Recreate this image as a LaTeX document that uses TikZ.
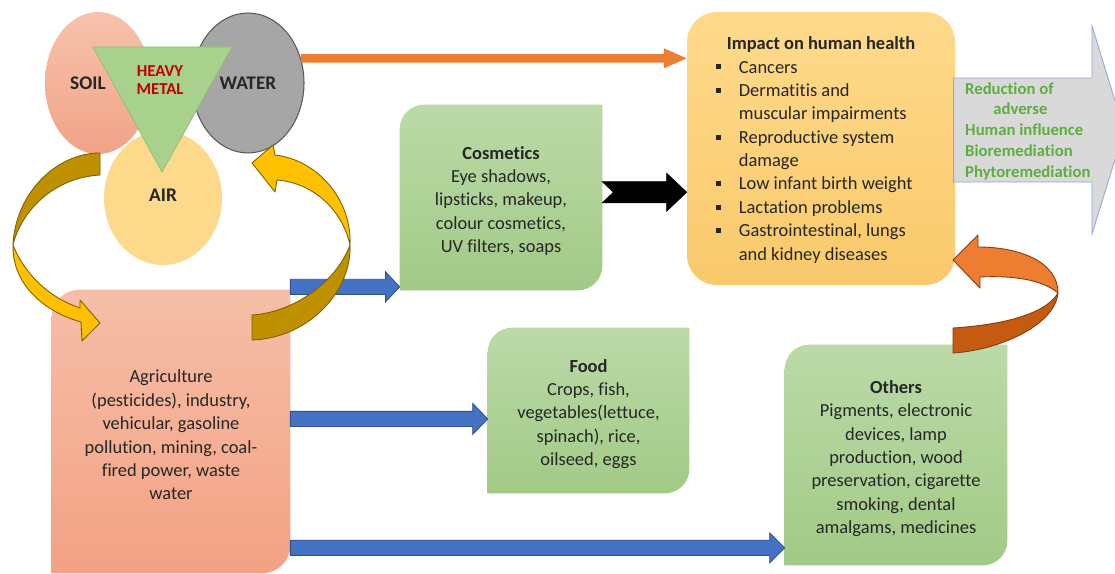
\documentclass[tikz,border=0pt]{standalone}
\usepackage{fontspec}
\setmainfont{Carlito}[Ligatures=NoCommon]
\usetikzlibrary{fit,shapes.geometric,backgrounds}

\definecolor{soilt}{HTML}{F7C2AC}
\definecolor{soilb}{HTML}{F0A387}
\definecolor{airc}{HTML}{FDD98C}
\definecolor{waterc}{HTML}{A6A6A6}
\definecolor{wateredge}{HTML}{595959}
\definecolor{metalc}{HTML}{A9D18E}
\definecolor{metaledge}{HTML}{8CBF6E}
\definecolor{metaltext}{HTML}{C00000}
\definecolor{greent}{HTML}{BBDAA8}
\definecolor{greenb}{HTML}{A2CA86}
\definecolor{agrit}{HTML}{F6BEA8}
\definecolor{agrib}{HTML}{F3A283}
\definecolor{impt}{HTML}{FFDA8C}
\definecolor{impb}{HTML}{F9C96B}
\definecolor{yell}{HTML}{FFC000}
\definecolor{yelldark}{HTML}{BF9000}
\definecolor{yelledge}{HTML}{7F6000}
\definecolor{oran}{HTML}{ED7D31}
\definecolor{orandark}{HTML}{C55A11}
\definecolor{oranedge}{HTML}{843C0C}
\definecolor{bluec}{HTML}{4472C4}
\definecolor{blueedge}{HTML}{2F528F}
\definecolor{greyarr}{HTML}{D9D9D9}
\definecolor{greyedge}{HTML}{8FAADC}
\definecolor{remedy}{HTML}{5DAD3F}
\definecolor{ink}{HTML}{262626}

% block arrow: [notch]{style}{from}{to}{half shaft}{half head}{head length}
\newcommand{\blockarrow}[7][0pt]{%
  \path (#3) coordinate (ba-s) (#4) coordinate (ba-e);
  \filldraw[#2] ([yshift=#5]ba-s) -- ([xshift=-#7,yshift=#5]ba-e)
    -- ([xshift=-#7,yshift=#6]ba-e) -- (ba-e)
    -- ([xshift=-#7,yshift=-#6]ba-e) -- ([xshift=-#7,yshift=-#5]ba-e)
    -- ([yshift=-#5]ba-s) -- ([xshift=#1]ba-s) -- cycle;}
% box with two round corners: {node}{radius}{top}{bottom}
\newcommand{\diagfill}[4]{%
  \shade[top color=#3, bottom color=#4] (#1.south west)
    -- ([yshift=-#2]#1.north west) arc[start angle=180, end angle=90, radius=#2]
    -- (#1.north east)
    -- ([yshift=#2]#1.south east) arc[start angle=0, end angle=-90, radius=#2]
    -- cycle;}
\newcommand{\sqbul}{\rule[0.2em]{0.27em}{0.27em}}

\begin{document}
\begin{tikzpicture}[x=0.02cm, y=-0.02cm,
	panel/.style={inner sep=0pt},
	box/.style={inner sep=0pt, align=center, text=ink, font=\fontsize{10.5}{13.3}\selectfont},
	blob/.style={ellipse, inner sep=0pt},
	lbl/.style={text=ink, font=\fontsize{11}{13}\selectfont\bfseries},
	bluearr/.style={fill=bluec, draw=blueedge, line width=0.5pt},
	yellarr/.style={fill=yell, draw=yelledge, line width=0.5pt, line join=round},
	yelldarkarr/.style={fill=yelldark, draw=yelledge, line width=0.5pt, line join=round},
	oranarr/.style={fill=oran, draw=oranedge, line width=0.5pt, line join=round},
	orandarkarr/.style={fill=orandark, draw=oranedge, line width=0.5pt, line join=round}
	]
	\useasboundingbox (0,0) rectangle (1115,574);

	% soil, water, air and the metal
	\node[blob, top color=soilt, bottom color=soilb, minimum width=2.12cm, minimum height=2.84cm] (soil) at (98,83) {};
	\node[blob, fill=waterc, draw=wateredge, line width=0.6pt, minimum width=2.24cm, minimum height=2.8cm] (water) at (248,83) {};
	\node[blob, fill=airc, minimum width=2.36cm, minimum height=2.68cm] (air) at (163,198) {};
	\filldraw[fill=metalc, draw=metaledge, line width=0.4pt] (93,47) -- (232,47) -- (162,172) -- cycle;
	\node[lbl] (soiltxt) at ([xshift=-5.7pt]soil.center) {SOIL};
	\node[lbl] (watertxt) at (water.center) {WATER};
	\node[lbl] (airtxt) at ([yshift=1.5pt]air.center) {AIR};
	\node[align=center, text=metaltext, font=\fontsize{9.5}{10.3}\selectfont\bfseries] (metal) at (160,80) {HEAVY\\METAL};

	% boxes
	\node[panel, fit={(52,290) (290,573)}] (agri) {};
	\node[panel, fit={(400,105) (602,290)}] (cosm) {};
	\node[panel, fit={(488,328) (689,493)}] (food) {};
	\node[panel, fit={(785,345) (1007,565)}] (others) {};
	\node[panel, fit={(687,12) (955,285)}, rounded corners=17pt, top color=impt, bottom color=impb] (imp) {};
	\begin{scope}[on background layer]
		\fill[white] (0,0) rectangle (1115,574);
		\diagfill{agri}{16pt}{agrit}{agrib}
		\diagfill{cosm}{14pt}{greent}{greenb}
		\diagfill{food}{14pt}{greent}{greenb}
		\diagfill{others}{14pt}{greent}{greenb}
	\end{scope}
	\node[box] (agritxt) at ([yshift=-2pt]agri.center) {Agriculture\\(pesticides), industry,\\vehicular, gasoline\\pollution, mining, coal-\\fired power, waste\\water};
	\node[box] (cosmtxt) at ([yshift=-2pt]cosm.center) {\textbf{Cosmetics}\\Eye shadows,\\lipsticks, makeup,\\colour cosmetics,\\UV filters, soaps};
	\node[box] (foodtxt) at ([yshift=-2pt]food.center) {\textbf{Food}\\Crops, fish,\\vegetables(lettuce,\\spinach), rice,\\oilseed, eggs};
	\node[box] (otherstxt) at ([yshift=-2pt]others.center) {\textbf{Others}\\Pigments, electronic\\devices, lamp\\production, wood\\preservation, cigarette\\smoking, dental\\amalgams, medicines};
	\node[inner sep=0pt, text=ink, font=\fontsize{10.5}{13.3}\selectfont] (imptxt) at ([yshift=-1pt]imp.center) {%
		\begin{tabular}{@{}l@{\hspace{10pt}}l@{}}
		\multicolumn{2}{c}{\textbf{Impact on human health}}\\
		\sqbul & Cancers\\
		\sqbul & Dermatitis and\\
		& muscular impairments\\
		\sqbul & Reproductive system\\
		& damage\\
		\sqbul & Low infant birth weight\\
		\sqbul & Lactation problems\\
		\sqbul & Gastrointestinal, lungs\\
		& and kidney diseases
		\end{tabular}};

	% straight arrows
	\blockarrow{fill=oran, draw=none}{water.25}{imp.west |- water.25}{2.4pt}{5.7pt}{13pt}
	\blockarrow{bluearr}{[yshift=2pt]agri.east |- cosm.south}{[yshift=2pt]cosm.south west}{4.3pt}{8.5pt}{8pt}
	\blockarrow{bluearr}{[yshift=-4.8pt]agri.east |- food.west}{[yshift=-4.8pt]food.west}{4.3pt}{8.8pt}{8.5pt}
	\blockarrow{bluearr}{[yshift=10pt]agri.east |- others.south}{[yshift=10pt]others.south west}{4.3pt}{8.5pt}{8.5pt}
	\blockarrow[6.3pt]{fill=black, draw=black}{[yshift=3pt]cosm.east}{[yshift=3pt]imp.west |- cosm.east}{6pt}{10.8pt}{11.4pt}
	\blockarrow{fill=greyarr, draw=greyedge, line width=0.5pt}{[xshift=-1pt,yshift=10.5pt]imp.east}{[yshift=10.5pt]imp.east -| 1124,0}{29.6pt}{59.2pt}{18.2pt}
	\node[anchor=west, align=left, text=remedy, font=\fontsize{9.5}{11.8}\selectfont\bfseries] (remedy) at (959,131)
		{Reduction of\\\hspace*{16pt}adverse\\Human influence\\Bioremediation\\Phytoremediation};

	% curved arrows
	\filldraw[yelldarkarr] (100,153) .. controls (55,153) and (15,195) .. (13,245)
		.. controls (20,215) and (50,178) .. (100,175) -- cycle;
	\filldraw[yellarr] (13,245) .. controls (25,275) and (50,298) .. (80,308) -- (80,300) -- (100,323)
		-- (82,341) -- (81,322) .. controls (45,312) and (12,285) .. (13,245) -- cycle;
	\filldraw[yellarr] (252,163) -- (273,145) -- (275,155) .. controls (318,160) and (352,200) .. (350,245)
		.. controls (343,212) and (315,183) .. (277,180) -- (275,192) -- cycle;
	\filldraw[yelldarkarr] (350,245) .. controls (352,290) and (310,338) .. (252,340) -- (252,315)
		.. controls (290,313) and (335,285) .. (350,245) -- cycle;
	\filldraw[orandarkarr] (953,328) -- (953,353) .. controls (1000,350) and (1055,325) .. (1058,293)
		.. controls (1045,315) and (1000,325) .. (953,328) -- cycle;
	\filldraw[oranarr] (1058,293) .. controls (1058,262) and (1020,247) .. (978,247) -- (978,235) -- (953,260)
		-- (980,288) -- (980,277) .. controls (1020,275) and (1045,282) .. (1058,293) -- cycle;
\end{tikzpicture}
\end{document}
